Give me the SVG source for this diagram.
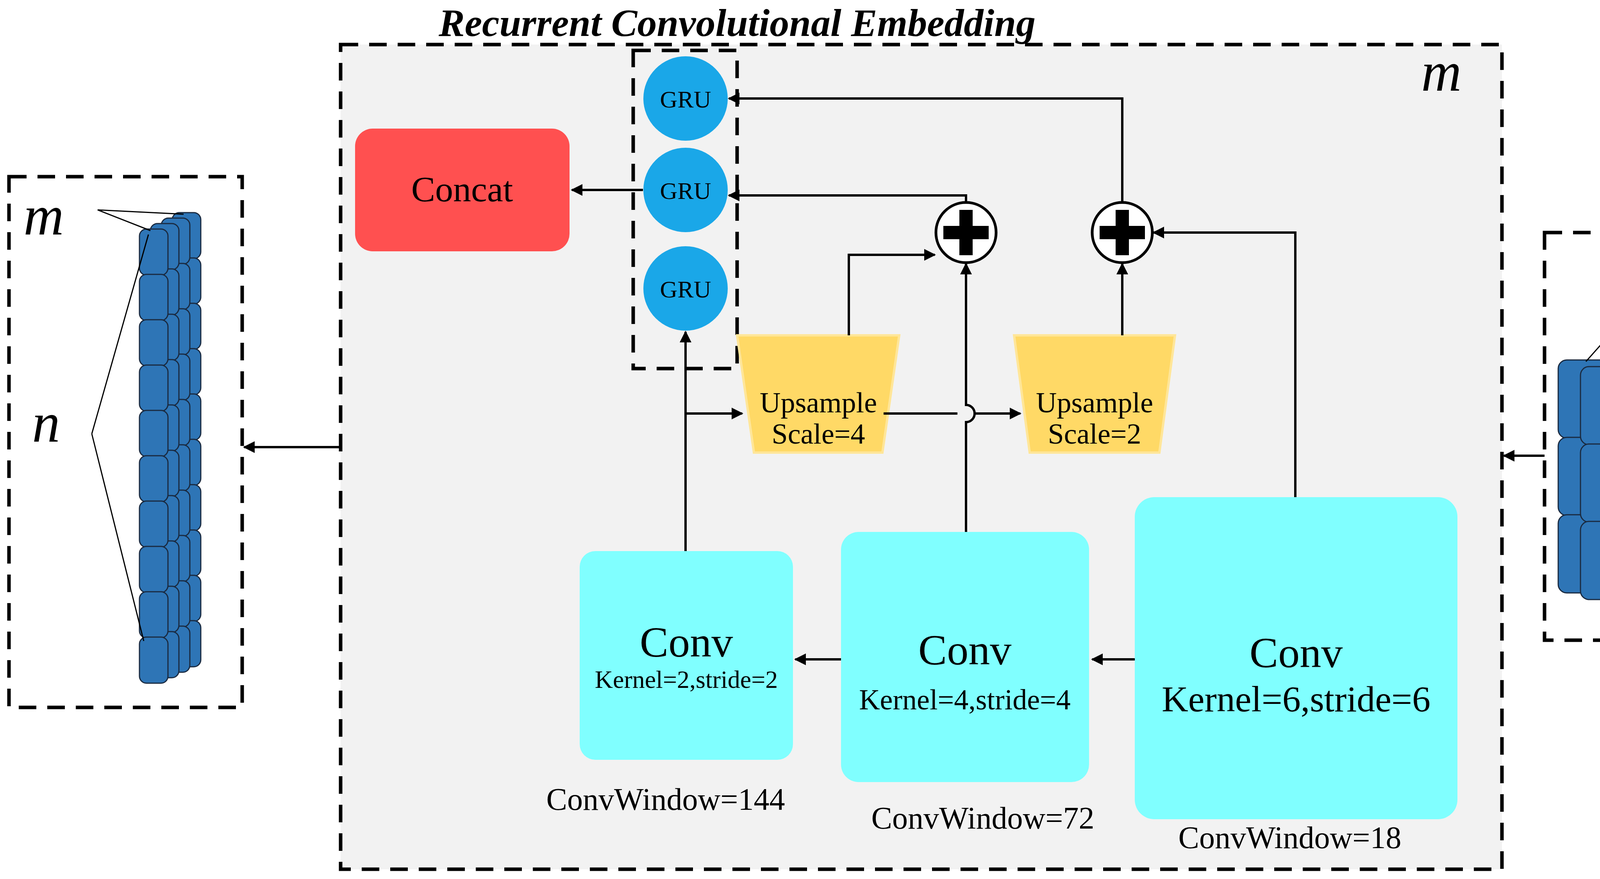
<svg xmlns="http://www.w3.org/2000/svg" width="4483" height="2249" viewBox="0 0 4483 2249">
<style>
.dash{fill:none;stroke:#000;stroke-width:9;stroke-dasharray:45,28}
.ln{fill:none;stroke:#000;stroke-width:6}
.th{fill:none;stroke:#000;stroke-width:3}
.t{font-family:"Liberation Serif",serif;fill:#000;text-anchor:middle}
.gru{fill:#1AA7E8}
.conv{fill:#80FFFF}
.up{fill:#FFD966;stroke:#FFE699;stroke-width:6}
.tile{fill:#2E75B6;stroke:#1a2a40;stroke-width:3}
</style>
<defs>
<marker id="a" viewBox="0 0 10 10" refX="9" refY="5" markerWidth="5" markerHeight="5" orient="auto" markerUnits="strokeWidth"><path d="M0,0L10,5L0,10z" fill="#000"/></marker>
<g id="plus"><circle r="77" fill="#fff" stroke="#000" stroke-width="7"/><rect x="-58" y="-17" width="116" height="34" fill="#000"/><rect x="-17" y="-58" width="34" height="116" fill="#000"/></g>
</defs>
<rect x="872" y="114" width="2973" height="2110" fill="#F2F2F2"/>
<rect class="dash" x="872" y="114" width="2973" height="2110"/>
<text class="t" x="1887" y="92" font-size="100" font-weight="bold" font-style="italic">Recurrent Convolutional Embedding</text>
<text class="t" x="3690" y="232" font-size="143" font-style="italic">m</text>
<g id="gru"><rect class="dash" x="1621" y="129" width="266" height="814"/>
<ellipse class="gru" cx="1755" cy="252" rx="108" ry="108"/><ellipse class="gru" cx="1755" cy="486" rx="108" ry="108"/><ellipse class="gru" cx="1755" cy="738" rx="108" ry="108"/>
<text class="t" x="1755" y="275" font-size="62">GRU</text><text class="t" x="1755" y="509" font-size="62">GRU</text><text class="t" x="1755" y="761" font-size="62">GRU</text></g>
<g id="concat"><rect x="909" y="329" width="549" height="314" rx="45" fill="#FF5050"/><text class="t" x="1183" y="515" font-size="92">Concat</text></g>
<g id="up1"><path class="up" d="M1887,858H2302L2259,1158H1930Z"/><text class="t" x="2095" y="1055" font-size="74">Upsample</text><text class="t" x="2095" y="1135" font-size="74">Scale=4</text></g>
<g id="up2"><path class="up" d="M2596,858H3008L2968,1158H2636Z"/><text class="t" x="2802" y="1055" font-size="74">Upsample</text><text class="t" x="2802" y="1135" font-size="74">Scale=2</text></g>
<g id="plus1"><use href="#plus" x="2473" y="595"/></g>
<g id="plus2"><use href="#plus" x="2873" y="595"/></g>
<g id="conv1"><rect class="conv" x="1484" y="1410" width="546" height="534" rx="40"/><text class="t" x="1757" y="1680" font-size="110">Conv</text><text class="t" x="1757" y="1760" font-size="64">Kernel=2,stride=2</text></g>
<g id="conv2"><rect class="conv" x="2153" y="1361" width="635" height="640" rx="45"/><text class="t" x="2470" y="1700" font-size="110">Conv</text><text class="t" x="2470" y="1815" font-size="74">Kernel=4,stride=4</text></g>
<g id="conv3"><rect class="conv" x="2905" y="1272" width="826" height="824" rx="50"/><text class="t" x="3318" y="1707" font-size="110">Conv</text><text class="t" x="3318" y="1820" font-size="94">Kernel=6,stride=6</text></g>
<text class="t" x="1704" y="2072" font-size="80">ConvWindow=144</text>
<text class="t" x="2516" y="2120" font-size="80">ConvWindow=72</text>
<text class="t" x="3302" y="2170" font-size="80">ConvWindow=18</text>
<g id="connectors">
<path class="ln" marker-end="url(#a)" d="M1646,486H1464"/>
<path class="ln" marker-end="url(#a)" d="M2873,518V252H1866"/>
<path class="ln" marker-end="url(#a)" d="M2473,518V500H1866"/>
<path class="ln" marker-end="url(#a)" d="M2173,858V652H2393"/>
<path class="ln" marker-end="url(#a)" d="M2873,858V675"/>
<path class="ln" marker-end="url(#a)" d="M3316,1272V595H2953"/>
<path class="ln" marker-end="url(#a)" d="M1755,1410V849"/>
<path class="ln" marker-end="url(#a)" d="M1755,1058H1900"/>
<path class="ln" marker-end="url(#a)" d="M2473,1361V1080A22,22 0 0 0 2473,1036V675"/>
<path class="ln" marker-end="url(#a)" d="M2262,1058H2451M2495,1058H2612"/>
<path class="ln" marker-end="url(#a)" d="M2905,1687H2796"/>
<path class="ln" marker-end="url(#a)" d="M2153,1687H2036"/>
<path class="ln" marker-end="url(#a)" d="M872,1144H625"/>
<path class="ln" marker-end="url(#a)" d="M3954,1166H3850"/>
</g>
<g id="left">
<rect class="dash" x="23" y="452" width="597" height="1358"/>
<g>
<rect class="tile" x="441" y="544" width="73" height="118" rx="18"/><rect class="tile" x="441" y="660" width="73" height="118" rx="18"/><rect class="tile" x="441" y="776" width="73" height="118" rx="18"/><rect class="tile" x="441" y="892" width="73" height="118" rx="18"/><rect class="tile" x="441" y="1008" width="73" height="118" rx="18"/><rect class="tile" x="441" y="1124" width="73" height="118" rx="18"/><rect class="tile" x="441" y="1240" width="73" height="118" rx="18"/><rect class="tile" x="441" y="1356" width="73" height="118" rx="18"/><rect class="tile" x="441" y="1472" width="73" height="118" rx="18"/><rect class="tile" x="441" y="1588" width="73" height="118" rx="18"/>
<rect class="tile" x="413" y="558" width="73" height="118" rx="18"/><rect class="tile" x="413" y="674" width="73" height="118" rx="18"/><rect class="tile" x="413" y="790" width="73" height="118" rx="18"/><rect class="tile" x="413" y="906" width="73" height="118" rx="18"/><rect class="tile" x="413" y="1022" width="73" height="118" rx="18"/><rect class="tile" x="413" y="1138" width="73" height="118" rx="18"/><rect class="tile" x="413" y="1254" width="73" height="118" rx="18"/><rect class="tile" x="413" y="1370" width="73" height="118" rx="18"/><rect class="tile" x="413" y="1486" width="73" height="118" rx="18"/><rect class="tile" x="413" y="1602" width="73" height="118" rx="18"/>
<rect class="tile" x="385" y="572" width="73" height="118" rx="18"/><rect class="tile" x="385" y="688" width="73" height="118" rx="18"/><rect class="tile" x="385" y="804" width="73" height="118" rx="18"/><rect class="tile" x="385" y="920" width="73" height="118" rx="18"/><rect class="tile" x="385" y="1036" width="73" height="118" rx="18"/><rect class="tile" x="385" y="1152" width="73" height="118" rx="18"/><rect class="tile" x="385" y="1268" width="73" height="118" rx="18"/><rect class="tile" x="385" y="1384" width="73" height="118" rx="18"/><rect class="tile" x="385" y="1500" width="73" height="118" rx="18"/><rect class="tile" x="385" y="1616" width="73" height="118" rx="18"/>
<rect class="tile" x="357" y="586" width="73" height="118" rx="18"/><rect class="tile" x="357" y="702" width="73" height="118" rx="18"/><rect class="tile" x="357" y="818" width="73" height="118" rx="18"/><rect class="tile" x="357" y="934" width="73" height="118" rx="18"/><rect class="tile" x="357" y="1050" width="73" height="118" rx="18"/><rect class="tile" x="357" y="1166" width="73" height="118" rx="18"/><rect class="tile" x="357" y="1282" width="73" height="118" rx="18"/><rect class="tile" x="357" y="1398" width="73" height="118" rx="18"/><rect class="tile" x="357" y="1514" width="73" height="118" rx="18"/><rect class="tile" x="357" y="1630" width="73" height="118" rx="18"/>
</g>
<text class="t" x="112" y="600" font-size="143" font-style="italic">m</text>
<text class="t" x="118" y="1130" font-size="143" font-style="italic">n</text>
<path class="th" d="M470,548L250,537L385,590M235,1110L380,600M235,1110L368,1640"/>
</g>
<g id="right">
<rect class="dash" x="3954" y="595" width="512" height="1043"/>
<g>
<rect class="tile" x="3989" y="921" width="130" height="200" rx="22"/><rect class="tile" x="3989" y="1119" width="130" height="200" rx="22"/><rect class="tile" x="3989" y="1317" width="130" height="200" rx="22"/>
<rect class="tile" x="4046" y="938" width="130" height="200" rx="22"/><rect class="tile" x="4046" y="1136" width="130" height="200" rx="22"/><rect class="tile" x="4046" y="1334" width="130" height="200" rx="22"/>
<rect class="tile" x="4103" y="955" width="130" height="200" rx="22"/><rect class="tile" x="4103" y="1153" width="130" height="200" rx="22"/><rect class="tile" x="4103" y="1351" width="130" height="200" rx="22"/>
<rect class="tile" x="4160" y="972" width="130" height="200" rx="22"/><rect class="tile" x="4160" y="1170" width="130" height="200" rx="22"/><rect class="tile" x="4160" y="1368" width="130" height="200" rx="22"/>
</g>
<text class="t" x="4150" y="815" font-size="143" font-style="italic">m</text>
<text class="t" x="4365" y="1380" font-size="143" font-style="italic">l</text>
<path class="th" d="M4180,790L4060,925M4180,790L4120,955M4180,790L4280,980M4330,1350L4240,975M4330,1350L4260,1568"/>
</g>
</svg>
